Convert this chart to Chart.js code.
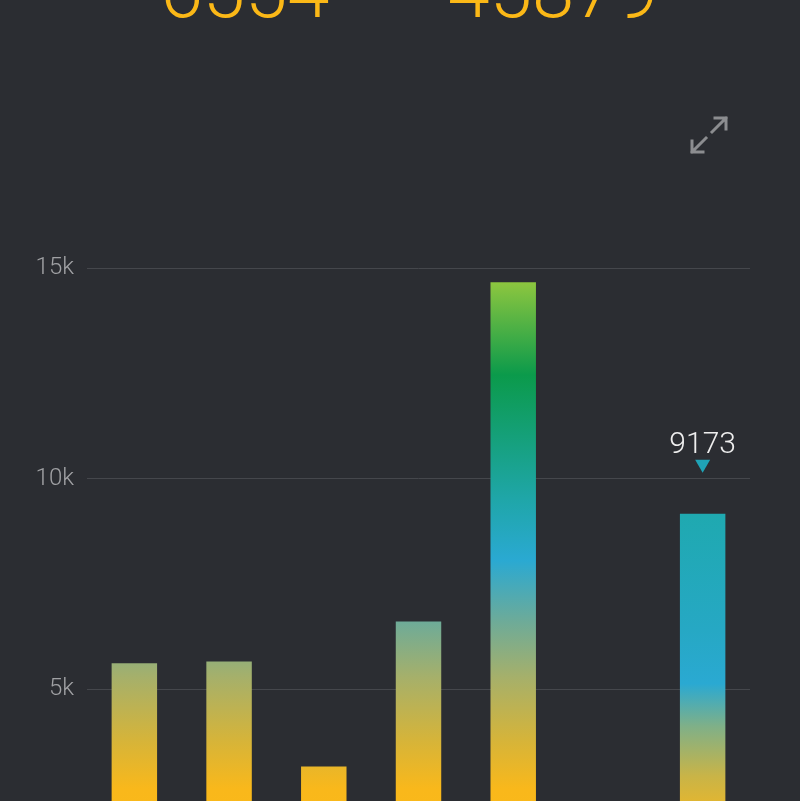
<!DOCTYPE html>
<html>
<head>
<meta charset="utf-8">
<script src="https://cdn.jsdelivr.net/npm/chart.js@4"></script>
<style>
html,body{margin:0;padding:0;background:#2b2d32;overflow:hidden;}
#wrap{position:absolute;left:0;top:0;width:800px;height:960px;}
</style>
</head>
<body>
<div id="wrap"><canvas id="myChart"></canvas></div>
<script>
// data
var days = ['Mon','Tue','Wed','Thu','Fri','Sat','Sun']
var steps = [5620, 5665, 3170, 6615, 14670, 966, 9173]
var yTicks = [0, 5000, 10000, 15000]
var avgSteps = 6554
var totalSteps = 45879
var selected = 6

// colour ramp for normal bars (t = share of the tallest bar)
var ramp = [
  [0, '#fdb913'], [0.18, '#f9b81b'], [0.26, '#d5b43a'], [0.36, '#a6b06a'],
  [0.45, '#6eab98'], [0.55, '#2aa9d2'], [0.65, '#1fa6a8'], [0.85, '#0b9a4b'], [1, '#8dc63f']
]
// ramp for the picked bar (f = share of its own height)
var pickRamp = [
  [0, '#fdb913'], [0.2, '#f3b722'], [0.32, '#c9b447'], [0.45, '#7fb088'],
  [0.56, '#2aa9d2'], [0.7, '#26a8c4'], [1, '#1fa9b0']
]

const hex2rgb=(h)=>[parseInt(h.substr(1,2),16),parseInt(h.substr(3,2),16),parseInt(h.substr(5,2),16)]
const mix=(a,b,k)=>{
  var x = hex2rgb(a), y = hex2rgb(b)
  return 'rgb(' + x.map((v,i)=>Math.round(v + (y[i]-v)*k)).join(',') + ')'
}
const rampAt=(t)=>{
  for(var i = 1;i < ramp.length;i++){
    if(t <= ramp[i][0]){
      var k = (t - ramp[i-1][0])/(ramp[i][0] - ramp[i-1][0])
      return mix(ramp[i-1][1], ramp[i][1], k)
    }
  }
  return ramp[ramp.length-1][1]
}

const barFill=(c)=>{
  var chart = c.chart
  if(!chart.chartArea) return '#fdb913'
  var i = c.dataIndex
  var ys = chart.scales.y
  var y0 = ys.getPixelForValue(0)
  var y1 = ys.getPixelForValue(steps[i])
  var g = chart.ctx.createLinearGradient(0, y0, 0, y1)
  if(i === selected){
    pickRamp.forEach(s=>g.addColorStop(s[0], s[1]))
    return g
  }
  var r = steps[i] / Math.max(...steps)
  for(var j = 0;j < ramp.length;j++){
    if(ramp[j][0] < r) g.addColorStop(ramp[j][0]/r, ramp[j][1])
  }
  g.addColorStop(1, rampAt(r))
  return g
}

const extras = {
  id: 'extras',
  afterDraw(chart){
    var ctx = chart.ctx
    ctx.save()
    // big numbers cut by the top edge
    ctx.fillStyle = '#fbb817'
    ctx.font = '300 76px Roboto'
    ctx.textAlign = 'center'
    ctx.textBaseline = 'alphabetic'
    ctx.fillText(String(avgSteps), 245, 17)
    ctx.fillText(String(totalSteps), 553, 17)

    // expand icon
    ctx.strokeStyle = '#8c8d90'
    ctx.lineWidth = 3
    ctx.lineCap = 'square'
    ctx.beginPath()
    ctx.moveTo(712, 132); ctx.lineTo(726, 118)
    ctx.moveTo(715, 118); ctx.lineTo(726, 118); ctx.lineTo(726, 129)
    ctx.moveTo(706, 138); ctx.lineTo(692, 152)
    ctx.moveTo(692, 141); ctx.lineTo(692, 152); ctx.lineTo(703, 152)
    ctx.stroke()

    // value + marker above the picked bar
    var bar = chart.getDatasetMeta(0).data[selected]
    ctx.fillStyle = '#eeeeee'
    ctx.font = '300 30px Roboto'
    ctx.fillText(String(steps[selected]), bar.x, bar.y - 61)
    ctx.fillStyle = '#1fa3b6'
    ctx.beginPath()
    ctx.moveTo(bar.x - 7.5, bar.y - 54)
    ctx.lineTo(bar.x + 7.5, bar.y - 54)
    ctx.lineTo(bar.x, bar.y - 41)
    ctx.closePath()
    ctx.fill()
    ctx.restore()
  }
}

var myChart = new Chart('myChart', {
  type: 'bar',
  data: {
    labels: days,
    datasets: [{
      data: steps,
      backgroundColor: barFill,
      borderWidth: 0,
      categoryPercentage: 1,
      barPercentage: 0.48
    }]
  },
  options: {
    responsive: true,
    maintainAspectRatio: false,
    animation: false,
    layout: { padding: { top: 163, right: 50, bottom: 60, left: 0 } },
    plugins: { legend: { display: false }, tooltip: { enabled: false } },
    scales: {
      x: { display: false },
      y: {
        min: 0,
        max: 17500,
        afterBuildTicks: (s)=>{ s.ticks = yTicks.map(v=>({ value: v })) },
        afterFit: (s)=>{ s.width = 87 },
        border: { display: false },
        grid: { color: '#45474c', lineWidth: 1, drawTicks: false },
        ticks: {
          padding: 13,
          color: '#a0a1a4',
          font: { family: 'Roboto', size: 24, weight: '300' },
          callback: (v)=> v === 0 ? '' : (v/1000) + 'k'
        }
      }
    }
  },
  plugins: [extras]
})
</script>
</body>
</html>
